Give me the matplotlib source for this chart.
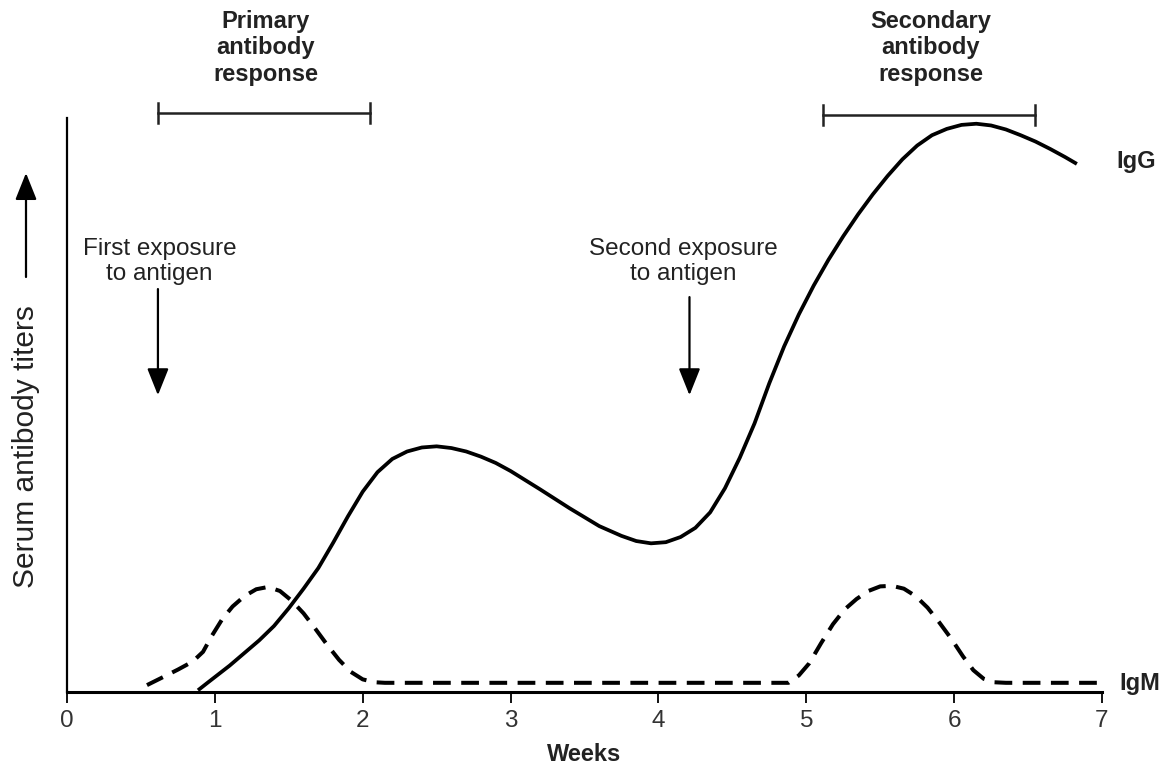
import matplotlib
matplotlib.use("Agg")
import matplotlib.pyplot as plt

# ---- data ----
weeks_ticks = [0, 1, 2, 3, 4, 5, 6, 7]
tick_labels = ["0", "1", "2", "3", "4", "5", "6", "7"]

igg_x = [0.886, 0.95, 1.0, 1.1, 1.2, 1.3, 1.4, 1.5, 1.6, 1.7,
         1.8, 1.9, 2.0, 2.1, 2.2, 2.3, 2.4, 2.5, 2.6, 2.7,
         2.8, 2.9, 3.0, 3.2, 3.4, 3.6, 3.75, 3.85, 3.95, 4.05,
         4.15, 4.25, 4.35, 4.45, 4.55, 4.65, 4.75, 4.85, 4.95, 5.05,
         5.15, 5.25, 5.35, 5.45, 5.55, 5.65, 5.75, 5.85, 5.95, 6.05,
         6.15, 6.25, 6.35, 6.45, 6.55, 6.65, 6.75, 6.83]
igg_y = [0.3, 1.6, 2.6, 4.6, 6.8, 9.0, 11.5, 14.6, 18.0, 21.6,
         26.0, 30.6, 34.9, 38.3, 40.6, 41.9, 42.6, 42.8, 42.5, 41.9,
         41.0, 39.9, 38.5, 35.3, 32.0, 28.9, 27.2, 26.3, 25.9, 26.1,
         27.0, 28.6, 31.3, 35.5, 40.8, 46.8, 53.8, 60.2, 65.8, 70.8,
         75.3, 79.4, 83.2, 86.7, 89.9, 92.8, 95.2, 97.0, 98.1, 98.8,
         99.0, 98.7, 98.0, 97.0, 95.9, 94.6, 93.2, 92.0]

igm_x = [0.541, 0.65, 0.75, 0.85, 0.92, 0.98, 1.05, 1.12, 1.2, 1.28,
         1.36, 1.44, 1.52, 1.6, 1.68, 1.76, 1.84, 1.92, 2.0, 2.08,
         2.15, 4.88, 4.95, 5.02, 5.1, 5.18, 5.26, 5.34, 5.42, 5.5,
         5.58, 5.66, 5.74, 5.82, 5.9, 5.98, 6.06, 6.13, 6.2, 6.27,
         6.35, 6.99]
igm_y = [1.2, 2.6, 3.9, 5.3, 7.0, 9.8, 12.7, 14.9, 16.7, 17.9,
         18.3, 17.6, 15.9, 13.7, 11.0, 8.2, 5.6, 3.5, 2.2, 1.7,
         1.6, 1.6, 2.9, 5.0, 8.5, 11.8, 14.4, 16.2, 17.6, 18.4,
         18.5, 18.0, 16.7, 14.7, 12.1, 9.3, 6.2, 3.8, 2.3, 1.7,
         1.6, 1.6]

primary_range = [0.615, 2.05]
secondary_range = [5.113, 6.547]
first_exposure_week = 0.615
second_exposure_week = 4.21

TXT = "#222222"
FONT = ["Liberation Sans", "DejaVu Sans"]
plt.rcParams['font.family'] = FONT

fig = plt.figure(figsize=(11.68, 7.74), dpi=100)
ax = fig.add_axes([67/1168, 82/774, 1035/1168, 574/774])
ax.set_xlim(0, 7)
ax.set_ylim(0, 100)

ax.plot(igg_x, igg_y, color="black", lw=2.7, solid_capstyle="butt",
        solid_joinstyle="round", clip_on=False)
ax.plot(igm_x, igm_y, color="black", lw=2.9, linestyle=(0, (4.4, 2.6)),
        dash_joinstyle="round", clip_on=False)

for s in ["top", "right"]:
    ax.spines[s].set_visible(False)
ax.spines["bottom"].set_linewidth(2.2)
ax.spines["left"].set_linewidth(1.6)
ax.set_yticks([])
ax.set_xticks(weeks_ticks)
ax.set_xticklabels(tick_labels, fontsize=17.5, color="#333333",
                   family=["Liberation Sans Narrow", "Liberation Sans", "DejaVu Sans"])
ax.tick_params(axis="x", direction="out", length=8, width=1.3, pad=5)

ax.set_xlabel("Weeks", fontsize=17, fontweight="bold", color=TXT, labelpad=8)

# Series labels
ax.text(7.1, 92.5, "IgG", fontsize=17, fontweight="bold", color=TXT,
        va="center", ha="left", clip_on=False)
ax.text(7.12, 1.4, "IgM", fontsize=17, fontweight="bold", color=TXT,
        va="center", ha="left", clip_on=False)

# Response brackets
for rng, ybr, label in [(primary_range, 100.9, "Primary\nantibody\nresponse"),
                        (secondary_range, 100.5, "Secondary\nantibody\nresponse")]:
    ax.plot(rng, [ybr, ybr], color="#222222", lw=1.8, clip_on=False)
    for xx in rng:
        ax.plot([xx, xx], [ybr - 1.8, ybr + 1.8], color="#222222", lw=1.8, clip_on=False)
    ax.text(sum(rng) / 2 + 0.01, 112.2, label, fontsize=17, fontweight="bold",
            color=TXT, ha="center", va="center", linespacing=1.22, clip_on=False)

# Exposure annotations
ax.text(first_exposure_week + 0.01, 75.0, "First exposure\nto antigen", fontsize=17.5,
        color=TXT, ha="center", va="center", linespacing=1.12)
ax.annotate("", xy=(first_exposure_week, 51.7), xytext=(first_exposure_week, 70.2),
            arrowprops=dict(arrowstyle="-|>,head_length=0.55,head_width=0.22",
                            color="black", lw=1.6, mutation_scale=30,
                            shrinkA=0, shrinkB=0))
ax.text(second_exposure_week - 0.04, 75.0, "Second exposure\nto antigen", fontsize=17.5,
        color=TXT, ha="center", va="center", linespacing=1.12)
ax.annotate("", xy=(second_exposure_week, 51.7), xytext=(second_exposure_week, 68.8),
            arrowprops=dict(arrowstyle="-|>,head_length=0.55,head_width=0.22",
                            color="black", lw=1.6, mutation_scale=30,
                            shrinkA=0, shrinkB=0))

# Y label with upward arrow
fig.text(26/1168, 1 - 447/774, "Serum antibody titers", rotation=90, fontsize=21.5,
         color=TXT, ha="center", va="center")
fig.patches.append(matplotlib.patches.FancyArrowPatch(
    (26/1168, 1 - 277/774), (26/1168, 1 - 173/774), transform=fig.transFigure,
    arrowstyle="-|>,head_length=0.55,head_width=0.22", color="black", lw=1.6,
    mutation_scale=30, shrinkA=0, shrinkB=0))

fig.savefig("out.png", dpi=100, facecolor="white")
